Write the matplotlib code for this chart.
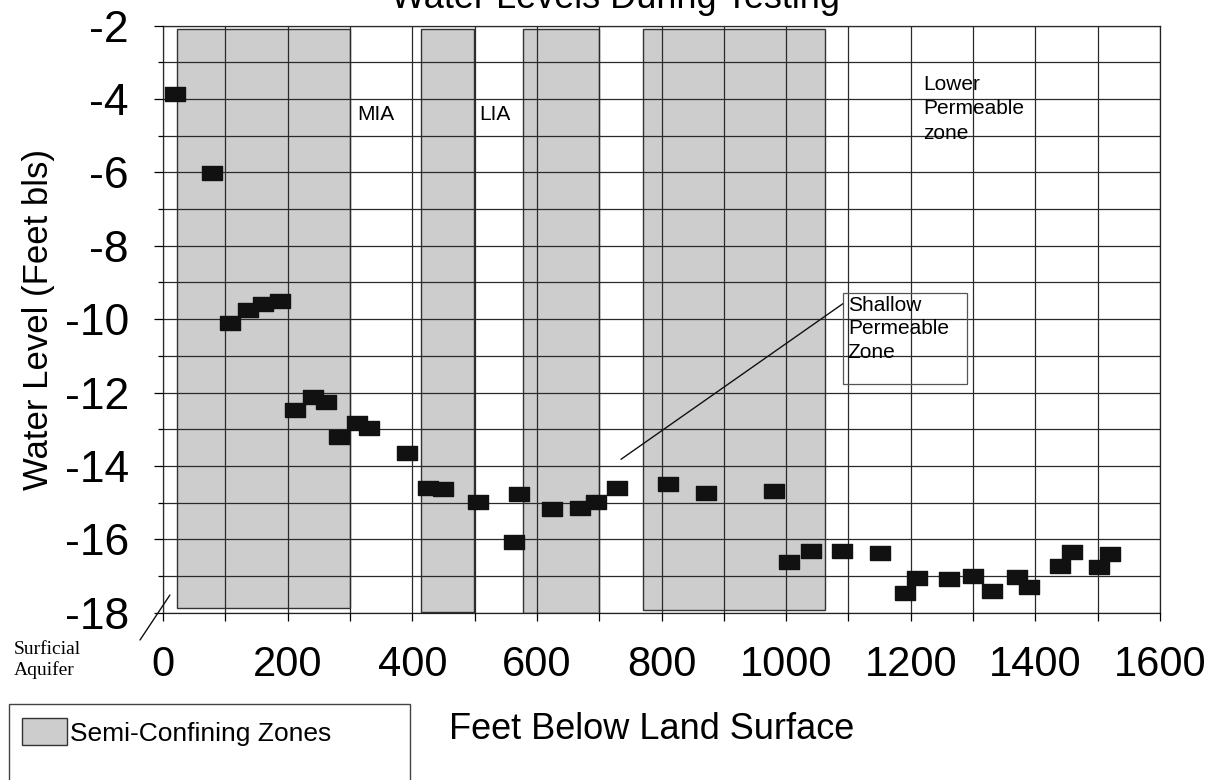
import numpy as np
import matplotlib
matplotlib.use('Agg')
import matplotlib.pyplot as plt
from matplotlib.patches import Rectangle
from matplotlib.ticker import MultipleLocator

# water level readings (depth in feet below land surface, level in feet bls)
depth = [20, 78, 107, 137, 160, 188, 212, 241, 262, 282, 312, 331, 391,
         426, 450, 505, 564, 572, 625, 669, 695, 729, 811, 872, 981,
         1005, 1040, 1090, 1150, 1191, 1210, 1261, 1300, 1330, 1370, 1390,
         1439, 1459, 1502, 1519]
level = [-3.87, -6.01, -10.1, -9.75, -9.6, -9.5, -12.48, -12.13, -12.25,
         -13.22, -12.82, -12.98, -13.64, -14.61, -14.63, -14.99, -16.07,
         -14.77, -15.17, -15.16, -14.98, -14.61, -14.5, -14.75, -14.68,
         -16.63, -16.31, -16.31, -16.38, -17.47, -17.06, -17.09, -17.0,
         -17.41, -17.04, -17.31, -16.73, -16.34, -16.75, -16.4]

# semi-confining zones
zone_left = [22, 414, 577, 771]
zone_right = [300, 499, 699, 1062]
zone_top = [-2.1, -2.1, -2.1, -2.1]
zone_bottom = [-17.86, -17.99, -18.02, -17.94]

plt.rcParams['font.family'] = ['Liberation Sans', 'DejaVu Sans']
plt.rcParams['axes.unicode_minus'] = False

fig = plt.figure(figsize=(12.1, 7.8), dpi=100)
ax = fig.add_axes([163/1210, 1 - 612.7/780, 997/1210, 587.2/780])

widths = np.array(zone_right) - np.array(zone_left)
heights = np.array(zone_top) - np.array(zone_bottom)
zones = ax.bar(zone_left, heights, width=widths, bottom=zone_bottom, align='edge',
               color='#cdcdcd', edgecolor='#333333', linewidth=1.0, zorder=1,
               label='Semi-Confining Zones')

# rectangular markers, wider than tall
box = [(-10, -7), (10, -7), (10, 7), (-10, 7), (-10, -7)]
ax.plot(depth, level, linestyle='none', marker=box, markersize=14.5,
        color='#111111', zorder=4)

ax.set_xlim(0, 1600)
ax.set_ylim(-18, -2)
ax.xaxis.set_major_locator(MultipleLocator(200))
ax.xaxis.set_minor_locator(MultipleLocator(100))
ax.yaxis.set_major_locator(MultipleLocator(2))
ax.yaxis.set_minor_locator(MultipleLocator(1))
ax.grid(True, which='both', color='#2a2a2a', linewidth=0.9)
ax.set_axisbelow(False)
ax.tick_params(axis='x', which='both', length=6, width=0.9, labelsize=30, pad=17)
ax.tick_params(axis='y', which='major', length=6.5, width=0.9, labelsize=32, pad=18)
ax.tick_params(axis='y', which='minor', length=3.5, width=0.9)
for s in ax.spines.values():
    s.set_color('#222222')
    s.set_linewidth(0.9)

ax.set_xlabel('Feet Below Land Surface', fontsize=26)
ax.xaxis.set_label_coords(0.4905, -0.169)
ax.set_ylabel('Water Level (Feet bls)', fontsize=25)
ax.yaxis.set_label_coords(-0.108, 0.4985)

# title sits mostly above the top edge, as in the original
fig.text(615/1210, 1 - 8/780, 'Water Levels During Testing', ha='center',
         va='baseline', fontsize=26)

# zone labels
ax.text(311, -4.42, 'MIA', fontsize=15, va='center', ha='left')
ax.text(507, -4.42, 'LIA', fontsize=15, va='center', ha='left')
ax.text(1220, -3.35, 'Lower\nPermeable\nzone', fontsize=15, va='top', ha='left',
        linespacing=1.35)

ax.add_patch(Rectangle((1092, -11.78), 198, 2.5, fill=False, edgecolor='#555555',
                       linewidth=0.9, zorder=5))
ax.text(1099, -9.36, 'Shallow\nPermeable\nZone', fontsize=15, va='top', ha='left',
        linespacing=1.3, zorder=6)
ax.annotate('', xy=(735, -13.82), xytext=(1092, -9.57),
            arrowprops=dict(arrowstyle='-', color='#111111', lw=1.0,
                            shrinkA=0, shrinkB=0))

# surficial aquifer label
fig.text(14/1210, 1 - 641/780, 'Surficial\nAquifer', fontsize=14, va='top',
         ha='left', family='Liberation Serif')
ax.annotate('', xy=(11, -17.52), xytext=(140, 140), textcoords='figure pixels',
            arrowprops=dict(arrowstyle='-', color='#111111', lw=1.0,
                            shrinkA=0, shrinkB=0), annotation_clip=False)

# legend box
fig.patches.append(Rectangle((9/1210, -0.02), 401/1210, (780 - 704)/780 + 0.02,
                             transform=fig.transFigure, fill=False,
                             edgecolor='#444444', linewidth=1.0))
fig.legend(handles=[zones], loc='center left', bbox_to_anchor=(22/1210, 1 - 732/780),
           bbox_transform=fig.transFigure, frameon=False, fontsize=19,
           borderpad=0, borderaxespad=0, handlelength=1.7, handleheight=1.15,
           handletextpad=0.12)

fig.savefig('out.png', dpi=100)
plt.close('all')
